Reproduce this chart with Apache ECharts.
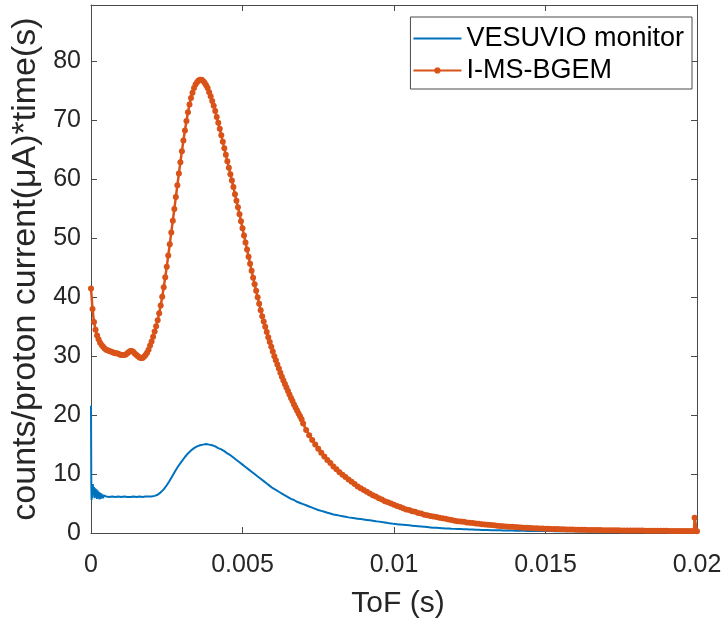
<!DOCTYPE html>
<html>
<head>
<meta charset="utf-8">
<script src="https://cdn.jsdelivr.net/npm/echarts@6/dist/echarts.min.js"></script>
<style>
  html, body { margin: 0; padding: 0; background: #ffffff; }
  #chart { width: 726px; height: 624px; }
</style>
</head>
<body>
<div id="chart"></div>
<script>
// Axis ticks
const xTicks = [0, 0.005, 0.01, 0.015, 0.02];
const xTickLabels = ['0', '0.005', '0.01', '0.015', '0.02'];
const yTicks = [0, 10, 20, 30, 40, 50, 60, 70, 80];

const seriesNames = ['VESUVIO monitor', 'I-MS-BGEM'];

// VESUVIO monitor: first bins (irregular ToF spacing, counts)
const monitorHeadTof = [0, 0.00001, 0.00002, 0.00003, 0.00004, 0.00006, 0.00008, 0.0001,
  0.00012, 0.00014, 0.00016, 0.00018, 0.0002, 0.00022, 0.00024, 0.00026, 0.00028,
  0.0003, 0.00032, 0.00034, 0.00036, 0.00038, 0.0004, 0.00042, 0.00044, 0.00046];
const monitorHeadCounts = [21.6, 8.2, 5.6, 7.9, 6.0, 8.3, 6.4, 7.8,
  5.9, 7.6, 6.1, 7.4, 5.8, 7.2, 6.0, 7.0, 5.7,
  6.8, 5.8, 6.7, 6.0, 6.5, 5.9, 6.4, 6.1, 6.3];

// VESUVIO monitor: regular bins from 0.0005 s, 0.0001 s wide
const monitorTofStart = 0.0005;
const monitorTofStep = 0.0001;
const monitorCounts = [
  6.2, 6.1, 6.2, 6.1, 6.2, 6.1, 6.2, 6.1, 6.1, 6.2,
  6.1, 6.2, 6.1, 6.2, 6.2, 6.2, 6.3, 6.5, 6.9, 7.4,
  8.1, 8.9, 9.8, 10.7, 11.5, 12.2, 12.9, 13.5, 14.0, 14.4,
  14.7, 14.9, 15.0, 15.1, 15.0, 14.9, 14.7, 14.4, 14.2, 13.9,
  13.5, 13.2, 12.8, 12.4, 12.0, 11.6, 11.2, 10.8, 10.4, 10.0,
  9.6, 9.2, 8.8, 8.4, 8.0, 7.6, 7.3, 7.0, 6.7, 6.4,
  6.1, 5.8, 5.6, 5.3, 5.1, 4.9, 4.7, 4.5, 4.3, 4.1,
  3.9, 3.75, 3.6, 3.45, 3.3, 3.15, 3.05, 2.95, 2.85, 2.75,
  2.65, 2.57, 2.5, 2.43, 2.36, 2.29, 2.22, 2.15, 2.08, 2.0,
  1.93, 1.85, 1.78, 1.7, 1.63, 1.55, 1.5, 1.45, 1.4, 1.35,
  1.3, 1.25, 1.2, 1.15, 1.1, 1.05, 1.0, 0.95, 0.9, 0.87,
  0.84, 0.81, 0.78, 0.75, 0.72, 0.7, 0.68, 0.66, 0.64, 0.62,
  0.6, 0.58, 0.56, 0.54, 0.52, 0.5, 0.49, 0.48, 0.47, 0.46,
  0.45, 0.44, 0.43, 0.42, 0.41, 0.4, 0.39, 0.38, 0.37, 0.36,
  0.35, 0.35, 0.34, 0.34, 0.33, 0.33, 0.32, 0.32, 0.31, 0.31,
  0.3, 0.3, 0.29, 0.29, 0.28, 0.28, 0.27, 0.27, 0.26, 0.26,
  0.25, 0.25, 0.24, 0.24, 0.24, 0.23, 0.23, 0.23, 0.22, 0.22,
  0.22, 0.22, 0.21, 0.21, 0.21, 0.21, 0.2, 0.2, 0.2, 0.2,
  0.2, 0.19, 0.19, 0.19, 0.19, 0.19, 0.18, 0.18, 0.18, 0.18,
  0.18, 0.18, 0.17, 0.17, 0.17, 0.17
];

// I-MS-BGEM: fine bins (0.00005 s) over the peak region
const bgemFineStart = 0;
const bgemFineStep = 0.00005;
const bgemFineCounts = [
  41.5, 38.0, 35.8, 34.5, 33.5, 32.9, 32.3, 31.9, 31.6, 31.3, 31.1,
  31.0, 30.9, 30.8, 30.7, 30.6, 30.5, 30.5, 30.4, 30.3, 30.2,
  30.2, 30.2, 30.3, 30.5, 30.7, 30.9, 30.9, 30.7, 30.4, 30.2,
  30.0, 29.8, 29.7, 29.7, 29.9, 30.2, 30.6, 31.1, 31.8, 32.5,
  33.3, 34.2, 35.1, 36.1, 37.3, 38.6, 40.1, 41.7, 43.4, 45.2,
  47.1, 49.0, 51.0, 53.0, 55.0, 57.0, 59.0, 61.0, 62.9, 64.8,
  66.6, 68.3, 69.9, 71.4, 72.7, 73.8, 74.7, 75.5, 76.1, 76.5,
  76.8, 76.9, 76.9, 76.7, 76.4, 76.0, 75.5, 74.8, 74.1, 73.3,
  72.5, 71.6, 70.6, 69.6, 68.6, 67.5, 66.4, 65.3, 64.2, 63.1,
  62.0, 60.9, 59.8, 58.7, 57.5, 56.4, 55.3, 54.1, 52.9, 51.7,
  50.5, 49.3, 48.1, 46.9, 45.7, 44.5, 43.3, 42.2, 41.1, 40.0,
  38.9, 37.8, 36.8, 35.9, 35.0, 34.1, 33.2, 32.4, 31.6, 30.8,
  30.0, 29.3, 28.6, 27.9, 27.2, 26.5, 25.9, 25.3, 24.7, 24.1,
  23.5, 22.9, 22.4, 21.8, 21.3, 20.8, 20.3, 19.8, 19.3, 18.6
];

// I-MS-BGEM: coarse bins (0.0001 s) along the tail
const bgemTailStart = 0.0071;
const bgemTailStep = 0.0001;
const bgemTailCounts = [
  17.5, 16.6, 15.8, 15.0, 14.3, 13.6, 13.0, 12.4, 11.9, 11.3,
  10.8, 10.3, 9.9, 9.5, 9.1, 8.7, 8.3, 7.9, 7.6, 7.3,
  7.0, 6.7, 6.4, 6.2, 5.9, 5.7, 5.4, 5.2, 5.0, 4.8,
  4.6, 4.4, 4.2, 4.0, 3.9, 3.7, 3.6, 3.4, 3.3, 3.1,
  3.0, 2.9, 2.8, 2.7, 2.6, 2.5, 2.4, 2.3, 2.2, 2.1,
  2.0, 1.95, 1.9, 1.8, 1.75, 1.7, 1.6, 1.55, 1.5, 1.45,
  1.4, 1.35, 1.3, 1.25, 1.2, 1.15, 1.1, 1.08, 1.05, 1.0,
  0.97, 0.94, 0.91, 0.88, 0.85, 0.82, 0.8, 0.78, 0.76, 0.74,
  0.72, 0.7, 0.68, 0.66, 0.64, 0.62, 0.61, 0.6, 0.58, 0.57,
  0.56, 0.55, 0.54, 0.53, 0.52, 0.51, 0.5, 0.49, 0.48, 0.47,
  0.46, 0.46, 0.45, 0.45, 0.44, 0.44, 0.43, 0.43, 0.42, 0.42,
  0.41, 0.41, 0.4, 0.4, 0.39, 0.39, 0.38, 0.38, 0.37, 0.37,
  0.36, 0.36, 0.35, 0.35, 0.34, 0.34, 0.33, 0.33, 0.32
];

// I-MS-BGEM: last bins
const bgemEndTof = [0.01992, 0.02];
const bgemEndCounts = [2.6, 0.3];

const blue = '#0072BD';
const orange = '#D95319';
const ink = '#262626';
const frame = '#4a4a4a';

function pairs(tof, counts) {
  return counts.map((c, i) => [tof[i], c]);
}
function gridPairs(start, step, counts) {
  return counts.map((c, i) => [+(start + i * step).toFixed(6), c]);
}

const monitorData = pairs(monitorHeadTof, monitorHeadCounts)
  .concat(gridPairs(monitorTofStart, monitorTofStep, monitorCounts));
const bgemData = gridPairs(bgemFineStart, bgemFineStep, bgemFineCounts)
  .concat(gridPairs(bgemTailStart, bgemTailStep, bgemTailCounts))
  .concat(pairs(bgemEndTof, bgemEndCounts));

const fontFamily = '"Liberation Sans", Arial, Helvetica, sans-serif';

function xLabel(v) {
  for (let i = 0; i < xTicks.length; i++) {
    if (Math.abs(v - xTicks[i]) < 1e-9) return xTickLabels[i];
  }
  return '';
}
function yLabel(v) {
  for (let i = 0; i < yTicks.length; i++) {
    if (Math.abs(v - yTicks[i]) < 1e-9) return String(yTicks[i]);
  }
  return '';
}

// Legend keys: plain line for the monitor, line with a small dot for the BGEM trace
const lineKey = 'path://M0 6 H48 V8 H0 Z M0 4 H0.01 V10 H0 Z';
const dotKey = 'path://M0 6 H48 V8 H0 Z M22.5 4 H25.5 L27 5.5 V8.5 L25.5 10 H22.5 L21 8.5 V5.5 Z';

const xRange = { min: 0, max: 0.02, interval: 0.005 };
const yRange = { min: 0, max: 89.6, interval: 10 };

const chart = echarts.init(document.getElementById('chart'), null, { renderer: 'canvas' });

chart.setOption({
  animation: false,
  backgroundColor: '#ffffff',
  grid: { left: 91, right: 29, top: 5, bottom: 89, containLabel: false },
  legend: {
    right: 34,
    top: 17,
    orient: 'vertical',
    itemWidth: 48,
    itemHeight: 6,
    itemGap: 5,
    padding: [8, 8, 5, 3],
    backgroundColor: '#ffffff',
    borderColor: frame,
    borderWidth: 1,
    borderRadius: 0,
    textStyle: { fontFamily, fontSize: 27, lineHeight: 27, color: '#000000', padding: [0, 0, 0, 0] },
    data: [
      { name: seriesNames[0], icon: lineKey, itemStyle: { color: blue } },
      { name: seriesNames[1], icon: dotKey, itemStyle: { color: orange } }
    ]
  },
  xAxis: [
    {
      type: 'value', position: 'bottom', ...xRange,
      name: 'ToF (s)', nameLocation: 'middle', nameGap: 56,
      nameTextStyle: { fontFamily, fontSize: 30, color: ink, padding: [0, 0, 0, 8] },
      axisLine: { onZero: false, lineStyle: { color: frame, width: 1 } },
      axisTick: { inside: true, length: 6, lineStyle: { color: frame } },
      axisLabel: { formatter: xLabel, fontFamily, fontSize: 25, color: ink, margin: 20 },
      splitLine: { show: false }
    },
    {
      type: 'value', position: 'top', ...xRange,
      axisLine: { onZero: false, lineStyle: { color: frame, width: 1 } },
      axisTick: { inside: true, length: 6, lineStyle: { color: frame } },
      axisLabel: { show: false },
      splitLine: { show: false }
    }
  ],
  yAxis: [
    {
      type: 'value', position: 'left', ...yRange,
      name: 'counts/proton current(\u03BCA)*time(s)', nameLocation: 'middle', nameGap: 46,
      nameTextStyle: { fontFamily, fontSize: 34, color: ink },
      axisLine: { onZero: false, lineStyle: { color: frame, width: 1 } },
      axisTick: { inside: true, length: 6, lineStyle: { color: frame } },
      axisLabel: { formatter: yLabel, fontFamily, fontSize: 25, color: ink, margin: 10 },
      splitLine: { show: false }
    },
    {
      type: 'value', position: 'right', ...yRange,
      axisLine: { onZero: false, lineStyle: { color: frame, width: 1 } },
      axisTick: { inside: true, length: 6, lineStyle: { color: frame } },
      axisLabel: { show: false },
      splitLine: { show: false }
    }
  ],
  series: [
    {
      name: seriesNames[0],
      type: 'line',
      xAxisIndex: 0, yAxisIndex: 0,
      data: monitorData,
      showSymbol: false,
      symbol: 'none',
      lineStyle: { color: blue, width: 2 },
      itemStyle: { color: blue },
      z: 2
    },
    {
      name: seriesNames[1],
      type: 'line',
      xAxisIndex: 0, yAxisIndex: 0,
      data: bgemData,
      showSymbol: true,
      showAllSymbol: true,
      symbol: 'circle',
      symbolSize: 6,
      lineStyle: { color: orange, width: 2.5 },
      itemStyle: { color: orange },
      z: 3
    }
  ]
});
</script>
</body>
</html>
